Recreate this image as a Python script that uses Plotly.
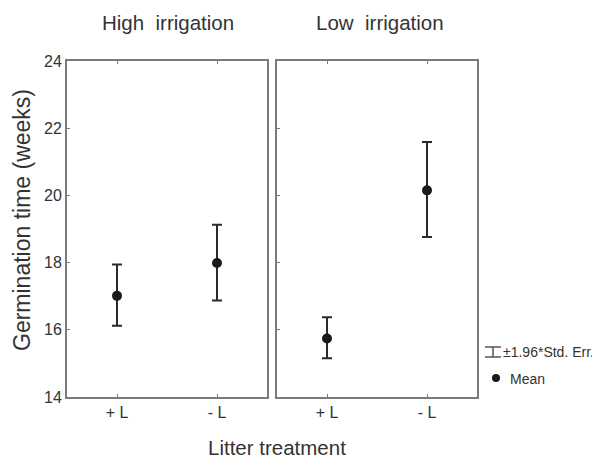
import plotly.graph_objects as go

categories = ["+ L", "- L"]
high_mean = [17.01, 17.99]
high_upper = [17.94, 19.13]
high_lower = [16.12, 16.87]
low_mean = [15.74, 20.15]
low_upper = [16.37, 21.59]
low_lower = [15.15, 18.76]
y_ticks = [14, 16, 18, 20, 22, 24]

FONT = "Liberation Sans, Arial, sans-serif"
TXT = "#333333"
AX = "#7a7a7a"

OFF = 8  # default page body margin
W, H = 600 - OFF, 461 - OFF
ML, MT = 67 - OFF, 61 - OFF
PW, PH = 410, 336
MR = W - ML - PW
MB = H - MT - PH


def px_x(px):
    return (px - OFF - ML) / PW


def px_y(py):
    return 1 - (py - OFF - MT) / PH


def trace(means, uppers, lowers, xa, ya):
    return go.Scatter(
        x=categories, y=means, xaxis=xa, yaxis=ya, mode="markers",
        marker=dict(color="#1a1a1a", size=10),
        error_y=dict(type="data", symmetric=False,
                     array=[u - m for u, m in zip(uppers, means)],
                     arrayminus=[m - l for m, l in zip(means, lowers)],
                     color="#2a2a2a", thickness=2, width=5),
        showlegend=False, hoverinfo="skip")


fig = go.Figure()
fig.add_trace(trace(high_mean, high_upper, high_lower, "x", "y"))
fig.add_trace(trace(low_mean, low_upper, low_lower, "x2", "y2"))

gap = 10 / PW
xcommon = dict(type="category", range=[-0.5, 1.5], showline=True, linecolor=AX,
               linewidth=2, mirror="ticks", ticks="inside", ticklen=3,
               tickcolor=AX, tickwidth=1, showgrid=False, zeroline=False,
               tickfont=dict(family=FONT, size=16, color=TXT))
ycommon = dict(range=[14, 24], tickvals=y_ticks, showline=True, linecolor=AX,
               linewidth=2, mirror=True, ticks="inside", ticklen=3,
               tickcolor=AX, showgrid=False, zeroline=False,
               tickfont=dict(family=FONT, size=16, color=TXT))

fig.update_layout(
    width=W, height=H, margin=dict(l=ML, r=MR, t=MT, b=MB),
    paper_bgcolor="white", plot_bgcolor="white",
    xaxis=dict(domain=[0, 0.5 - gap / 2], anchor="y", **xcommon),
    xaxis2=dict(domain=[0.5 + gap / 2, 1], anchor="y2", **xcommon),
    yaxis=dict(domain=[0, 1], anchor="x", showticklabels=True, **ycommon),
    yaxis2=dict(domain=[0, 1], anchor="x2", showticklabels=False, **ycommon),
    yaxis3=dict(overlaying="y", anchor="x", side="right", range=[0, 8], dtick=1,
                ticks="inside", ticklen=3, tickcolor=AX, showticklabels=False,
                showgrid=False, zeroline=False, showline=False),
    yaxis4=dict(overlaying="y2", anchor="x2", side="right", range=[0, 9], dtick=1,
                ticks="inside", ticklen=3, tickcolor=AX, showticklabels=False,
                showgrid=False, zeroline=False, showline=False),
    font=dict(family=FONT, color=TXT),
)

ann = []
ann.append(dict(text="High\u00a0 irrigation", x=px_x(168), y=px_y(23),
                xref="paper", yref="paper", showarrow=False, xanchor="center",
                font=dict(size=20.5, family=FONT, color=TXT), yanchor="middle"))
ann.append(dict(text="Low\u00a0 irrigation", x=px_x(380), y=px_y(23),
                xref="paper", yref="paper", showarrow=False, xanchor="center",
                font=dict(size=20.5, family=FONT, color=TXT), yanchor="middle"))
ann.append(dict(text="Litter treatment", x=px_x(277), y=px_y(447),
                xref="paper", yref="paper", showarrow=False, xanchor="center",
                font=dict(size=20.5, family=FONT, color=TXT), yanchor="middle"))
ann.append(dict(text="Germination time (weeks)", x=px_x(22), y=px_y(220),
                xref="paper", yref="paper", showarrow=False, textangle=-90,
                font=dict(size=23, family=FONT, color=TXT),
                xanchor="center", yanchor="middle"))
ann.append(dict(text="±1.96*Std. Err.", x=px_x(501), y=px_y(352),
                xref="paper", yref="paper", showarrow=False, xanchor="left",
                font=dict(size=14, family=FONT, color=TXT), yanchor="middle"))
ann.append(dict(text="Mean", x=px_x(508), y=px_y(379),
                xref="paper", yref="paper", showarrow=False, xanchor="left",
                font=dict(size=14, family=FONT, color=TXT), yanchor="middle"))
fig.update_layout(annotations=ann)

shapes = []
lc = dict(color="#555555", width=1.5)
shapes.append(dict(type="line", xref="paper", yref="paper", x0=px_x(485), x1=px_x(501),
                   y0=px_y(347), y1=px_y(347), line=lc))
shapes.append(dict(type="line", xref="paper", yref="paper", x0=px_x(485), x1=px_x(501),
                   y0=px_y(357), y1=px_y(357), line=lc))
shapes.append(dict(type="line", xref="paper", yref="paper", x0=px_x(493), x1=px_x(493),
                   y0=px_y(347), y1=px_y(357), line=lc))
shapes.append(dict(type="circle", xref="paper", yref="paper", xsizemode="pixel",
                   ysizemode="pixel", xanchor=px_x(496), yanchor=px_y(378),
                   x0=-4, x1=4, y0=-4, y1=4, fillcolor="#1a1a1a",
                   line=dict(width=0)))
fig.update_layout(shapes=shapes)

fig.write_html("out.html")
